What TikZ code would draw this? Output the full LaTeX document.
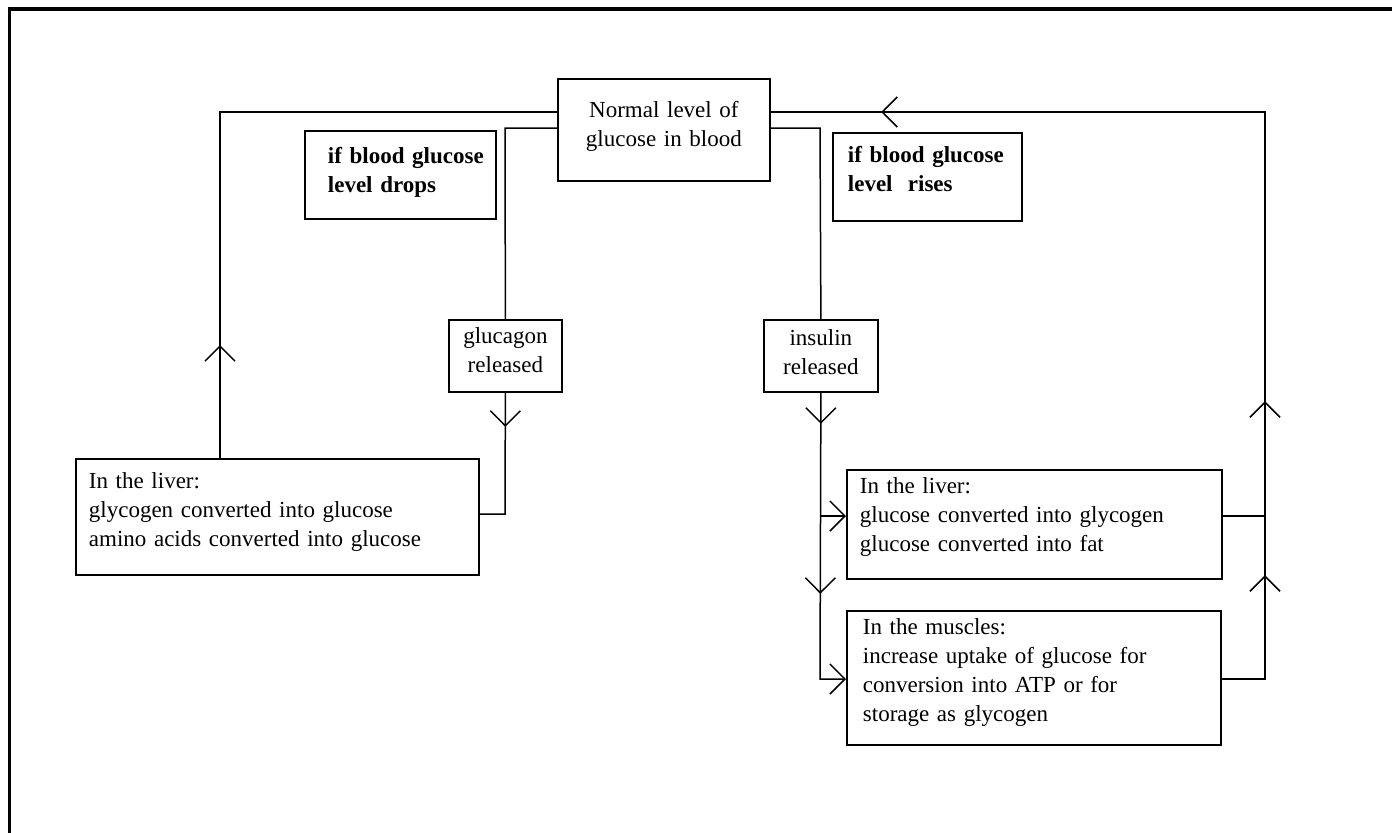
\documentclass[tikz,border=0pt]{standalone}
\usepackage{fontspec}
\setmainfont{Liberation Serif}
\usetikzlibrary{arrows.meta,decorations.markings}

\tikzset{
  box/.style={draw, line width=0.9pt, anchor=north west, inner sep=0pt,
    font=\fontsize{11.5pt}{14.5pt}\selectfont},
  midbox/.style={box, align=center},
  leftbox/.style={box, align=left, execute at begin node={\leftskip=#1}},
  link/.style={line width=0.75pt},
  barb/.tip={Straight Barb[length=7.5pt,width=15pt]},
  tipat/.style={decoration={mark=at position #1 with {\arrow{barb}}}},
}

\begin{document}
\begin{tikzpicture}[x=0.5pt,y=-0.5pt]
                \useasboundingbox (0,0) rectangle (1392,832);
                \draw[line width=1.7pt] (9.5,840) -- (9.5,9) -- (1400,9); %frame

                \node[midbox, text width=106pt, text height=19.5pt, text depth=31.5pt] (normal) at (557,78) {Normal level of\\glucose in blood}; %normal
                \node[leftbox=11.5pt, text width=95.5pt, text height=16.5pt, text depth=27.5pt] (drops) at (304,130) {\textbf{if blood glucose}\\\textbf{level drops}}; %drops
                \node[leftbox=7.5pt, text width=94.5pt, text height=15pt, text depth=29pt] (rises) at (832,132) {\textbf{if blood glucose}\\\textbf{level~~rises}}; %rises
                \node[midbox, text width=56.5pt, text height=12pt, text depth=24pt] (glucagon) at (448,319) {glucagon\\released}; %glucagon
                \node[midbox, text width=57pt, text height=13pt, text depth=23pt] (insulin) at (763,319) {insulin\\released}; %insulin
                \node[leftbox=6.5pt, text width=201.5pt, text height=15pt, text depth=43pt] (lliver) at (75,458) {In the liver:\\glycogen converted into glucose\\amino acids converted into glucose}; %liver left
                \node[leftbox=6.5pt, text width=187.5pt, text height=12pt, text depth=42.5pt] (rliver) at (846,469) {In the liver:\\glucose converted into glycogen\\glucose converted into fat}; %liver right
                \node[leftbox=8pt, text width=187pt, text height=12pt, text depth=55pt] (muscles) at (846,610) {In the muscles:\\increase uptake of glucose for\\conversion into ATP or for\\storage as glycogen}; %muscles

                \coordinate (lcorner) at (220,112);
                \coordinate (gcorner) at (505,128);
                \coordinate (gbottom) at (505,514);
                \coordinate (icorner) at (820,128);
                \coordinate (ijoin) at (820,516);
                \coordinate (ibottom) at (820,679);
                \coordinate (rcorner) at (1265,112);
                \coordinate (rjoin) at (1265,516);
                \coordinate (rbottom) at (1265,679);

                % drops side
                \draw[link, decoration=markings, tipat=56.5pt, postaction=decorate] (lliver.north -| lcorner) -- (lcorner) -- (normal.west |- lcorner);
                \draw[link] (normal.west |- gcorner) -- (gcorner) -- (glucagon.north);
                \draw[link, decoration=markings, tipat=17pt, postaction=decorate] (glucagon.south) -- (gbottom) -- (lliver.east |- gbottom);

                % rises side
                \draw[link] (normal.east |- icorner) -- (icorner) -- (insulin.north);
                \draw[link, -barb, decoration=markings, tipat=15.5pt, tipat=100.5pt, postaction=decorate] (insulin.south) -- (ibottom) -- (muscles.west |- ibottom);
                \draw[link, -barb] (ijoin) -- (rliver.west |- ijoin);
                \draw[link] (rliver.east |- rjoin) -- (rjoin);
                \draw[link, decoration=markings, tipat=73.5pt, tipat=160.5pt, tipat=497pt, postaction=decorate] (muscles.east |- rbottom) -- (rbottom) -- (rcorner) -- (normal.east |- rcorner);
            \end{tikzpicture}
\end{document}
